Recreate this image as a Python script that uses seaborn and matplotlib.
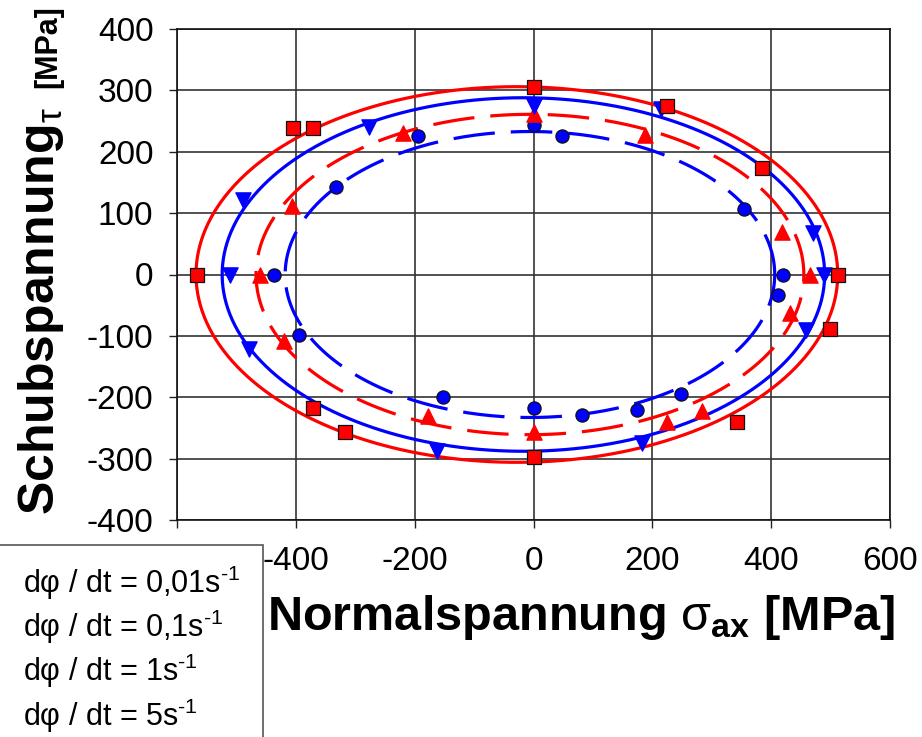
import numpy as np
import pandas as pd
import matplotlib
matplotlib.use("Agg")
import matplotlib.pyplot as plt
import seaborn as sns
from matplotlib.lines import Line2D

# strain rates d(phi)/dt in 1/s
rates = ["0,01", "0,1", "1", "5"]

# measured stress states: normal stress sigma_ax and shear stress tau [MPa]
sig_001 = [0, 48, -195, -333, -437, -395, -152, 0, 82, 174, 249, 412, 420, 354]
tau_001 = [244, 225, 225, 142, 0, -99, -200, -218, -229, -221, -194, -34, 0, 107]

sig_01 = [0, -220, -406, -460, 188, 418, 465, 432, -420, -177, 0, 224, 283]
tau_01 = [261, 231, 111, 0, 228, 70, 0, -62, -109, -231, -257, -240, -223]

sig_1 = [0, 215, -489, -277, -511, 470, 489, 459, -479, -163, 182]
tau_1 = [274, 269, 122, 241, 0, 68, 0, -91, -121, -288, -275]

sig_5 = [0, 225, -404, -371, 385, 512, -566, 499, -371, -317, 0, 342]
tau_5 = [306, 275, 239, 238, 174, 0, 0, -88, -218, -257, -298, -240]

# fitted yield ellipses: centre on the sigma axis and semi-axes [MPa]
ell_center = [-6, -6, -17, -28]
ell_a = [412, 461, 507, 540]
ell_b = [233, 261, 288, 306]

xticks = [-600, -400, -200, 0, 200, 400, 600]
yticks = [-400, -300, -200, -100, 0, 100, 200, 300, 400]

sigmas = [sig_001, sig_01, sig_1, sig_5]
taus = [tau_001, tau_01, tau_1, tau_5]

colors = ["#0000FF", "#FF0000", "#0000FF", "#FF0000"]
markers = ["o", "^", "v", "s"]
edges = ["#111111", "#FF0000", "#0000FF", "#111111"]
msizes = [9.5, 11, 11, 9.8]
dashed = [True, True, False, False]

sns.set_theme(style="white")
plt.rcParams["font.family"] = ["Liberation Sans", "DejaVu Sans"]
plt.rcParams["mathtext.fontset"] = "custom"
plt.rcParams["mathtext.rm"] = "Liberation Sans"
plt.rcParams["mathtext.it"] = "Liberation Sans:italic"
plt.rcParams["mathtext.bf"] = "Liberation Sans:bold"
plt.rcParams["mathtext.sf"] = "Liberation Sans"
plt.rcParams["axes.unicode_minus"] = False
for key in ["text.color", "axes.labelcolor", "xtick.color", "ytick.color",
            "xtick.labelcolor", "ytick.labelcolor"]:
    plt.rcParams[key] = "black"

W, H = 922, 737
fig = plt.figure(figsize=(W / 100, H / 100), dpi=100)
ax = fig.add_axes([177 / W, 1 - 520 / H, 713 / W, 491 / H])

# ellipse curves
theta = np.linspace(0, 2 * np.pi, 400)
for i in range(4):
    ex = ell_center[i] + ell_a[i] * np.cos(theta)
    ey = ell_b[i] * np.sin(theta)
    curve = pd.DataFrame({"sigma": ex, "tau": ey})
    sns.lineplot(data=curve, x="sigma", y="tau", sort=False, estimator=None,
                 color=colors[i], lw=2.3, ax=ax, zorder=3)
    if dashed[i]:
        ax.lines[-1].set_dashes([13, 5])

# measured points
for i in range(4):
    pts = pd.DataFrame({"sigma": sigmas[i], "tau": taus[i]})
    sns.scatterplot(data=pts, x="sigma", y="tau", marker=markers[i], color=colors[i],
                    edgecolor=edges[i], linewidth=0.9, s=msizes[i] ** 2,
                    ax=ax, zorder=4, legend=False)

ax.set_xlim(-600, 600)
ax.set_ylim(-400, 400)
ax.set_xticks(xticks)
ax.set_yticks(yticks)
# the -600 label sits under the legend box
ax.set_xticklabels(["" if v == -600 else str(v) for v in xticks])
ax.set_yticklabels([str(v) for v in yticks])
ax.grid(True, color="#333333", lw=1.2)
ax.set_axisbelow(True)
for sp in ax.spines.values():
    sp.set_color("#111111")
    sp.set_linewidth(1.2)
ax.tick_params(axis="both", which="major", direction="out", length=6, width=1.0,
               color="#222222", labelsize=24, labelcolor="black",
               left=True, bottom=True)
ax.tick_params(axis="x", pad=13)
ax.tick_params(axis="y", pad=11)

ax.set_xlabel(r"Normalspannung $\mathrm{\sigma}_{\mathbf{ax}}$ [MPa]",
              fontsize=35, fontweight="bold", color="black")
ax.xaxis.set_label_coords(0.567, -0.148)
ax.set_ylabel(r"Schubspannung$_{\mathrm{\tau}}$", fontsize=36, fontweight="bold",
              color="black")
ax.yaxis.set_label_coords(-0.156, 0.426)
fig.text(63 / W, 1 - 5 / H, "[MPa]", rotation=90, ha="right", va="top",
         fontsize=22, fontweight="bold", color="black")

labels = ["dφ / dt = " + r + r"s$^{\text{-1}}$" for r in rates]
handles = [Line2D([], [], linestyle="none") for _ in rates]
leg = fig.legend(handles, labels, loc="upper left",
                 bbox_to_anchor=(-6 / W, 1 - 545 / H, 269 / W, 0.0),
                 mode="expand", borderaxespad=0, handlelength=0.35,
                 handletextpad=0, borderpad=0.6, labelspacing=0.2,
                 fontsize=22, frameon=True, fancybox=False, framealpha=1,
                 facecolor="white", edgecolor="#555555")
leg.get_frame().set_linewidth(1.2)
for t in leg.get_texts():
    t.set_color("black")

fig.savefig("out.png", dpi=100)
